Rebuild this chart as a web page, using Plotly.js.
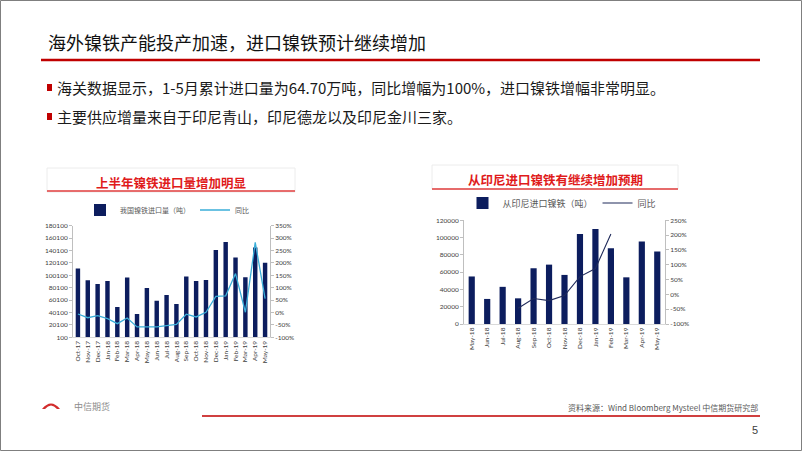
<!DOCTYPE html>
<html>
<head>
<meta charset="utf-8">
<script src="https://cdn.plot.ly/plotly-3.0.1.min.js"></script>
<style>
  html, body { margin: 0; padding: 0; background: #fff; }
  #plot { width: 802px; height: 451px; }
</style>
</head>
<body>
<div id="plot"></div>
<script>
// left chart: national nickel pig iron imports (tons) and yoy
var monthsAll = ["Oct-17", "Nov-17", "Dec-17", "Jan-18", "Feb-18", "Mar-18", "Apr-18",
  "May-18", "Jun-18", "Jul-18", "Aug-18", "Sep-18", "Oct-18", "Nov-18", "Dec-18",
  "Jan-19", "Feb-19", "Mar-19", "Apr-19", "May-19"];
var importTons = [111000, 92000, 86000, 91000, 49000, 96500, 37500, 79500, 59000, 68500,
  53700, 98000, 90800, 92400, 140800, 153700, 129000, 97000, 145000, 120500];
var importYoy = [-0.06, -0.21, -0.13, -0.25, -0.45, -0.22, -0.58, -0.58, -0.58, -0.53,
  -0.48, -0.07, -0.18, 0.01, 0.65, 0.67, 1.57, 0.01, 2.83, 0.56];

// right chart: imports from Indonesia (tons) and yoy
var monthsIdn = ["May-18", "Jun-18", "Jul-18", "Aug-18", "Sep-18", "Oct-18", "Nov-18",
  "Dec-18", "Jan-19", "Feb-19", "Mar-19", "Apr-19", "May-19"];
var idnTons = [55000, 29000, 43000, 29700, 64500, 68700, 56800, 104200, 110000, 87600,
  54000, 95400, 83800];
var idnYoy = [null, null, null, -0.47, -0.14, -0.21, -0.04, 0.60, 0.87, 2.04, null, null, null];

// percent tick labels
var pctLeftVals = [-1, -0.5, 0, 0.5, 1, 1.5, 2, 2.5, 3, 3.5];
var pctLeftText = ["-100%", "-50%", "0%", "50%", "100%", "150%", "200%", "250%", "300%", "350%"];
var pctRightVals = [-1, -0.5, 0, 0.5, 1, 1.5, 2, 2.5];
var pctRightText = ["-100%", "-50%", "0%", "50%", "100%", "150%", "200%", "250%"];

var W = 802, H = 451;
function px(x) { return x / W; }
function py(y) { return 1 - y / H; }

var navy = "#0c1d5e";
var red = "#c00000";
var cjk = "Noto Sans CJK SC";
var tickFont = { family: "Lato, 'Liberation Sans'", size: 6.5, color: "#404040" };

var trace1 = {
  x: monthsAll, y: importTons, type: "bar", name: "我国镍铁进口量（吨）",
  marker: { color: navy }, width: 0.45, xaxis: "x", yaxis: "y", legend: "legend"
};
var trace2 = {
  x: monthsAll, y: importYoy, type: "scatter", mode: "lines", name: "同比",
  line: { color: "#3aaed8", width: 1.3 }, xaxis: "x", yaxis: "y2", legend: "legend"
};
var trace3 = {
  x: monthsIdn, y: idnTons, type: "bar", name: "从印尼进口镍铁（吨）",
  marker: { color: navy }, width: 0.4, xaxis: "x3", yaxis: "y3", legend: "legend2"
};
var trace4 = {
  x: monthsIdn, y: idnYoy, type: "scatter", mode: "lines", name: "同比",
  line: { color: "#1f2a5a", width: 1.1 }, connectgaps: false,
  xaxis: "x3", yaxis: "y4", legend: "legend2"
};

var data = [trace1, trace2, trace3, trace4];

var yBase = {
  showgrid: false, zeroline: false, showline: true, linecolor: "#bfbfbf", linewidth: 1,
  ticks: "outside", ticklen: 3, tickcolor: "#bfbfbf", tickfont: tickFont, fixedrange: true
};
var xBase = {
  type: "category", showgrid: false, zeroline: false, showline: true, linecolor: "#d9d9d9",
  ticks: "", tickangle: -90, tickfont: tickFont, fixedrange: true
};

var shapes = [
  // slide border
  { type: "rect", xref: "paper", yref: "paper", x0: px(0.5), x1: px(801.5), y0: py(450.5), y1: py(0.5),
    line: { color: "#7f7f7f", width: 1 } },
  // title underline
  { type: "line", xref: "paper", yref: "paper", x0: px(41), x1: px(760), y0: py(60), y1: py(60),
    line: { color: red, width: 2.5 } },
  // bullets
  { type: "rect", xref: "paper", yref: "paper", x0: px(47), x1: px(52), y0: py(91), y1: py(84),
    fillcolor: red, line: { width: 0 } },
  { type: "rect", xref: "paper", yref: "paper", x0: px(47), x1: px(52), y0: py(120), y1: py(113),
    fillcolor: red, line: { width: 0 } },
  // chart title boxes
  { type: "rect", xref: "paper", yref: "paper", x0: px(47), x1: px(295), y0: py(192), y1: py(168),
    fillcolor: "#fff", line: { color: "#ececec", width: 1 } },
  { type: "line", xref: "paper", yref: "paper", x0: px(47), x1: px(295), y0: py(191), y1: py(191),
    line: { color: "#e03c3c", width: 1.5 } },
  { type: "rect", xref: "paper", yref: "paper", x0: px(432), x1: px(678), y0: py(189), y1: py(165),
    fillcolor: "#fff", line: { color: "#ececec", width: 1 } },
  { type: "line", xref: "paper", yref: "paper", x0: px(432), x1: px(678), y0: py(189), y1: py(189),
    line: { color: "#e03c3c", width: 1.5 } },
  // footer line
  { type: "line", xref: "paper", yref: "paper", x0: px(202), x1: px(760), y0: py(416), y1: py(416),
    line: { color: red, width: 1.5 } },
  // logo arc
  { type: "path", xref: "paper", yref: "paper",
    path: "M " + px(42) + " " + py(409) + " Q " + px(51) + " " + py(398) + " " + px(60) + " " + py(409) +
      " L " + px(57) + " " + py(409) + " Q " + px(51) + " " + py(402) + " " + px(45) + " " + py(409) + " Z",
    fillcolor: "#d22c2c", line: { width: 0 } }
];

var annotations = [
  { text: "海外镍铁产能投产加速，进口镍铁预计继续增加", xref: "paper", yref: "paper",
    x: px(46), y: py(42), xanchor: "left", yanchor: "middle", showarrow: false,
    font: { family: cjk, size: 18, color: "#111" } },
  { text: "海关数据显示，1-5月累计进口量为64.70万吨，同比增幅为100%，进口镍铁增幅非常明显。",
    xref: "paper", yref: "paper", x: px(55), y: py(88), xanchor: "left", yanchor: "middle",
    showarrow: false, font: { family: cjk, size: 15, color: "#1a1a1a" } },
  { text: "主要供应增量来自于印尼青山，印尼德龙以及印尼金川三家。",
    xref: "paper", yref: "paper", x: px(55), y: py(117), xanchor: "left", yanchor: "middle",
    showarrow: false, font: { family: cjk, size: 15, color: "#1a1a1a" } },
  { text: "<b>上半年镍铁进口量增加明显</b>", xref: "paper", yref: "paper",
    x: px(171), y: py(182), xanchor: "center", yanchor: "middle", showarrow: false,
    font: { family: cjk, size: 12.5, color: "#e01b1b" } },
  { text: "<b>从印尼进口镍铁有继续增加预期</b>", xref: "paper", yref: "paper",
    x: px(555), y: py(179), xanchor: "center", yanchor: "middle", showarrow: false,
    font: { family: cjk, size: 12.5, color: "#e01b1b" } },
  { text: "资料来源：Wind Bloomberg Mysteel 中信期货研究部", xref: "paper", yref: "paper",
    x: px(760), y: py(407), xanchor: "right", yanchor: "middle", showarrow: false,
    font: { family: cjk, size: 8, color: "#595959" } },
  { text: "5", xref: "paper", yref: "paper", x: px(760), y: py(430), xanchor: "right", yanchor: "middle",
    showarrow: false, font: { family: "Liberation Sans", size: 11, color: "#404040" } },
  { text: "中信期货", xref: "paper", yref: "paper", x: px(72), y: py(406), xanchor: "left",
    yanchor: "middle", showarrow: false, font: { family: cjk, size: 9, color: "#8c8c8c" } }
];

var layout = {
  width: W, height: H,
  margin: { l: 0, r: 0, t: 0, b: 0 },
  paper_bgcolor: "#fff", plot_bgcolor: "rgba(0,0,0,0)",
  showlegend: true,
  legend: {
    orientation: "h", x: px(167), xanchor: "center", y: py(210), yanchor: "middle",
    font: { family: cjk, size: 7, color: "#595959" }, itemwidth: 30, bgcolor: "rgba(0,0,0,0)"
  },
  legend2: {
    orientation: "h", x: px(562), xanchor: "center", y: py(203), yanchor: "middle",
    font: { family: cjk, size: 9, color: "#595959" }, itemwidth: 30, bgcolor: "rgba(0,0,0,0)"
  },
  xaxis: Object.assign({}, xBase, { domain: [px(73), px(270)], anchor: "y" }),
  yaxis: Object.assign({}, yBase, { domain: [py(337.3), py(225.7)], anchor: "x",
    range: [100, 180100], tick0: 100, dtick: 20000, tickformat: "d" }),
  yaxis2: Object.assign({}, yBase, { overlaying: "y", side: "right", anchor: "x",
    range: [-1, 3.5], tickvals: pctLeftVals, ticktext: pctLeftText }),
  xaxis3: Object.assign({}, xBase, { domain: [px(464), px(665)], anchor: "y3" }),
  yaxis3: Object.assign({}, yBase, { domain: [py(324), py(220.3)], anchor: "x3",
    range: [0, 120000], dtick: 20000, tickformat: "d" }),
  yaxis4: Object.assign({}, yBase, { overlaying: "y3", side: "right", anchor: "x3",
    range: [-1, 2.5], tickvals: pctRightVals, ticktext: pctRightText }),
  shapes: shapes,
  annotations: annotations
};

Plotly.newPlot("plot", data, layout, { displayModeBar: false, staticPlot: true });
</script>
</body>
</html>
